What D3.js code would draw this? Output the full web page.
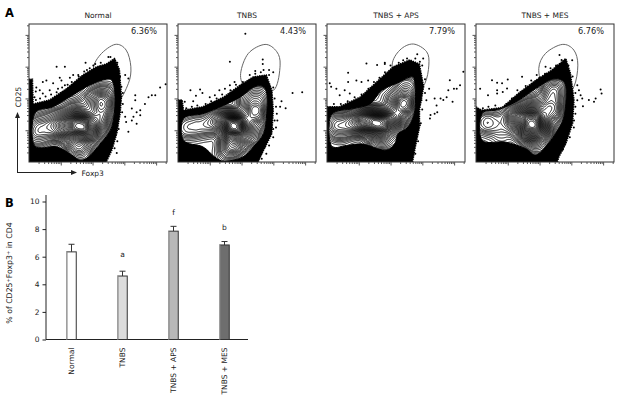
<!DOCTYPE html>
<html>
<head>
<meta charset="utf-8">
<script src="https://cdnjs.cloudflare.com/ajax/libs/d3/7.8.5/d3.min.js"></script>
<style>
html, body { margin: 0; padding: 0; background: #fff; }
text { font-family: "DejaVu Sans", sans-serif; fill: #222; }
</style>
</head>
<body>
<div id="graph"></div>
<script>
var panelNames = ["Normal", "TNBS", "TNBS + APS", "TNBS + MES"];
var panelPercent = ["6.36%", "4.43%", "7.79%", "6.76%"];

var gateNormal = [[62.4,85.2],[70.4,81.1],[73.8,69],[72,56.9],[63.6,43.6],[51.5,52],[46.6,66.6],[51.5,77.5]];
var gateTnbs = [[63.1,85.2],[71.6,79.9],[74,70.2],[70.4,53.3],[59.5,49.6],[48.5,54.5],[45.4,64.2],[51,78.7]];
var gateAps = [[62.5,85.5],[72.2,79.9],[73.8,70.2],[70.9,56.9],[62.5,47.2],[51.6,54.5],[47.2,70.2],[52.8,81.1]];
var gateMes = [[62.5,85.2],[70.9,81.1],[73.8,70.2],[70.9,54.5],[62.5,47.2],[49.2,54.5],[45.5,67.8],[50.4,78.7]];

// outline of the solid black cloud of events
var cloudNormal = [[0,0],[0,60],[2.5,60],[3,42],[15,45],[27,53],[39,63],[49,69],[56,71],[62,75],[65.5,67],[67,47],[66,35],[63.6,20.6],[60,8.5],[56,0]];
var cloudTnbs = [[0,0],[0,45],[3,45],[4,37.5],[18,40],[33,47],[45,55.7],[54.6,61.7],[64,63],[68,52],[69,37.5],[68,20.6],[62,8.5],[58,0]];
var cloudAps = [[0,0],[0,40],[9,40],[24,47],[36,58],[48,69],[60,74],[67,71],[70,54.5],[67,37.5],[67,25],[64,11],[62,0]];
var cloudMes = [[0,0],[0,40],[4,37.5],[19,39.5],[31,50],[43,59],[55,66.6],[65,75],[68.5,64],[71,45],[70,28],[65,13],[60,3.6],[59,0]];

// outermost contour, white inside
var outerNormal = [[4,35],[17.5,40],[31,48],[44,55.7],[56,60],[60.7,58],[62.4,44.8],[60,25.4],[51.5,13],[43,3.6],[37,1.2],[31,5],[20,11],[4,12]];
var outerTnbs = [[4,31.5],[18,35],[33,41],[45,47],[54.6,54],[60.7,55],[64.3,49.6],[64.3,35],[62,20.6],[54.6,11],[47,3.6],[34,0.5],[26.7,3.6],[18,11],[4,15.7]];
var outerAps = [[3,34],[19,38.7],[31,42],[40,52],[52.8,58],[61,61.7],[63.7,57],[63.7,37.5],[58.8,25.4],[51.6,20.6],[49,13],[41.9,8.5],[26,13],[14,12],[3,12]];
var outerMes = [[4.4,35],[16.5,38],[31,44.8],[43,53],[55,60],[62.5,59],[65.4,52],[63.7,32.7],[57.6,20.6],[50.4,11],[43,5],[36,9.7],[21,14.5],[4.4,15.7]];

// population centres behind the contours: x, y, weight
var sitesNormal = [[37,27,10],[55,42,5],[27,25,6],[17,24,3],[8,24,1.5],[3,25,1.5],[3,18,1],[8,16,1],[34,13,4],[44,21,5],[51,30,5],[56,52,1.5],[47,45,3],[34,37,3],[22,33,2],[10,31,1],[39,6,2]];
var sitesTnbs = [[41,26.6,10],[56.5,35,5],[50,45,2],[58,50,1.5],[30,30,4],[18,26.6,2],[8.5,24,1],[3,24,1],[40,13,4],[35,6,1],[52,20,3],[62,45,1.5],[8.5,30,0.5]];
var sitesAps = [[38,28,7],[56.4,42,5],[57.6,54.5,2],[19,28,3],[28.6,29,4],[9,28,1.5],[3,28,1.5],[9,20.6,1],[38,16,3],[48,30,4],[45.5,45,1],[28,34,2],[50,16,1.5]];
var sitesMes = [[40.7,30,8],[55,37.5,5],[55,50,3],[59,54.5,1.5],[28.6,30,4],[11.6,29,2],[4,28,1.5],[38,20.6,5],[48,23,4],[40.7,40,3],[28.6,35,2],[45,11,2],[19,18,1]];

// single events outside the cloud
var dotsNormal = [[20,69],[26,69],[41,72],[42,66.6],[46.6,70],[57.5,76],[56,70],[69.7,63],[72,60.5],[22.3,61],[29.6,61],[10,58],[12.6,59],[17.5,57],[7.8,52],[5.3,54],[4.9,51],[4,47],[10,49.6],[15,52],[21,53],[26,55.7],[23.5,59],[32,63],[35.7,63],[67,54.5],[99,56.4],[95,54],[91.5,48.4],[89,48.4],[86.6,47],[84,42],[77,48.4],[77,44.8],[74.5,38.7],[80.6,37.5],[78,36],[75.7,32.7],[80.6,33.9],[74.5,30],[69.7,32.7],[70.4,29],[78,27.8],[72,22],[63.6,6.5],
    [5,45],[8,46],[12,47.5],[16,49],[20,50.5],[24,54],[28,56],[31,58],[36,62],[40,65.5],[44,68],[48,71],[52,72],[59,76],[64,72],[66,62],[68,50],[68,42],[67.5,36],[65,24],[64,15],[62,10]];
var dotsTnbs = [[48.8,93],[37.6,72.6],[61.4,74.3],[61.4,71],[62,66.6],[66,66.6],[56,65.9],[69,65],[9,52],[16,52.5],[17.7,50],[13,48],[23,47],[26.7,48.4],[30,52],[34,53],[37.6,55.7],[41,58],[83,50],[90,50.6],[78,39],[75,44],[74,40],[71.6,35],[71,25],[72,30],[69,24],[4.9,43.6],[11,44],[8.5,23.5],[64,6],[60.7,2.4],[63,11],
    [6,39],[10,40],[14,41],[20,42],[24,44],[28,46],[32,49],[38,52],[42,56],[47,58],[52,63],[56,64],[60,65],[66,63],[69,54],[70,46],[71,40],[70,30],[69,18],[66,12]];
var dotsAps = [[28.6,71.4],[36.3,70.2],[41.9,72],[41.9,71],[65.4,78],[69.7,75],[67.3,72.6],[58.8,72.6],[55.2,73.8],[15.3,64.6],[15.3,58],[21.3,59],[25,58],[29.8,59],[3,54.5],[2,57],[6.8,53],[9.2,48.4],[12.8,52],[16.5,49.6],[98.8,65.4],[89,59.3],[96.4,55.7],[94,53],[92,53],[87.9,52],[86.7,47],[84.3,45],[82.3,46],[78,46],[74,53],[79.4,41],[79.9,36],[78,35],[75,34],[74.6,31.5],[91,43.6],[68.5,44.8],[72,44.8],[67.3,26.6],
    [5,42],[10,42],[15,44],[20,47],[25,49],[30,53],[34,58],[38,61],[42,65],[46,70],[52,72],[58,75],[64,75],[69,70],[71,60],[71,50],[69,38],[68,28],[66,15],[64,6]];
var dotsMes = [[11.6,59.3],[15.3,57.4],[23,59.8],[18.9,57],[3,53],[8.7,48.4],[15.3,52],[15.3,49.6],[19.4,50.8],[22.5,53.3],[33.4,61.7],[44,63],[50.4,69],[60.5,77.5],[65,73.8],[69.7,73.8],[90.3,52.5],[91,49.6],[86.7,46],[85.5,43.6],[81.8,45],[77,46],[75.8,48.4],[77.5,40.4],[73.4,55.7],[74.6,52],[72,35],[70.9,25],[73.4,44.8],
    [5,39],[9,40],[14,41],[22,42],[26,46],[30,52],[36,55],[40,59],[46,61],[50,64],[54,68],[58,70],[62,74],[67,70],[70,62],[72,50],[72,40],[71,30],[68,18],[63,9]];

var contourLevels = [0.02,0.04,0.06,0.08,0.1,0.12,0.14,0.16,0.19,0.22,0.25,0.28,0.31,0.34,0.37,0.4,0.43,0.46,0.49,0.52,0.55,0.58,0.61,0.64,0.67,0.7,0.73,0.76,0.79,0.82,0.85,0.88,0.91,0.94,0.97];
var logTicks = [2,3,4,5,6,7,8,9,10,20,30,40,50,60,70,80,90,100,200,300,400,500,600,700,800,900,1000,2000,3000,4000,5000,6000,7000,8000,9000,10000,20000];

// bar chart
var barNames = ["Normal", "TNBS", "TNBS + APS", "TNBS + MES"];
var barValues = [6.35, 4.6, 7.85, 6.85];
var barErrors = [0.55, 0.35, 0.35, 0.25];
var barFills = ["#ffffff", "#dcdcdc", "#b8b8b8", "#6e6e6e"];
var barLetters = ["", "a", "f", "b"];
var barLetterValues = [0, 6, 9.05, 7.9];
var barTicks = [0, 2, 4, 6, 8, 10];

var gates = [gateNormal, gateTnbs, gateAps, gateMes];
var clouds = [cloudNormal, cloudTnbs, cloudAps, cloudMes];
var outers = [outerNormal, outerTnbs, outerAps, outerMes];
var sites = [sitesNormal, sitesTnbs, sitesAps, sitesMes];
var dots = [dotsNormal, dotsTnbs, dotsAps, dotsMes];

var svg = d3.select("#graph").append("svg")
    .attr("width", 619)
    .attr("height", 404)
    .style("display", "block");

var defs = svg.append("defs");

var panelLeft = [29, 178, 327, 476];
var panelTop = 24, panelSize = 138;

var xScale = d3.scaleLinear().domain([0, 100]).range([0, panelSize]);
var yScale = d3.scaleLinear().domain([0, 100]).range([panelSize, 0]);
var xLog = d3.scaleLog().domain([1, 22000]).range([0, panelSize]);
var yLog = d3.scaleLog().domain([1, 22000]).range([panelSize, 0]);

var lineClosed = d3.line()
    .x(function(d) { return xScale(d[0]); })
    .y(function(d) { return yScale(d[1]); })
    .curve(d3.curveCardinalClosed);

var cloudLine = d3.line()
    .x(function(d) { return xScale(d[0]); })
    .y(function(d) { return yScale(d[1]); })
    .curve(d3.curveLinearClosed);

defs.append("clipPath").attr("id", "plotClip")
    .append("rect").attr("width", panelSize).attr("height", panelSize);

panelNames.forEach(function(name, i) {
    var g = svg.append("g").attr("transform", "translate(" + panelLeft[i] + "," + panelTop + ")");
    var plot = g.append("g").attr("clip-path", "url(#plotClip)");

    plot.append("path")
        .attr("d", lineClosed(gates[i]))
        .attr("fill", "none")
        .attr("stroke", "#666")
        .attr("stroke-width", 1);

    plot.append("path")
        .attr("d", cloudLine(clouds[i]))
        .attr("fill", "#000")
        .attr("stroke", "#000")
        .attr("stroke-width", 1.5)
        .attr("stroke-dasharray", "1.5 0.8");

    plot.selectAll(".dot")
        .data(dots[i])
        .enter().append("circle")
        .attr("class", "dot")
        .attr("cx", function(d) { return xScale(d[0]); })
        .attr("cy", function(d) { return yScale(d[1]); })
        .attr("r", 1)
        .attr("fill", "#000");

    // white area under the outermost contour, inner contours are clipped to it
    defs.append("clipPath").attr("id", "outerClip" + i)
        .append("path").attr("d", lineClosed(outers[i]));

    plot.append("path")
        .attr("d", lineClosed(outers[i]))
        .attr("fill", "#fff")
        .attr("stroke", "#000")
        .attr("stroke-width", 1);

    var density = d3.contourDensity()
        .x(function(d) { return xScale(d[0]); })
        .y(function(d) { return yScale(d[1]); })
        .weight(function(d) { return d[2]; })
        .size([panelSize, panelSize])
        .cellSize(1)
        .bandwidth(7.5)
        .contours(sites[i]);

    plot.append("g")
        .attr("clip-path", "url(#outerClip" + i + ")")
        .selectAll(".contour")
        .data(contourLevels)
        .enter().append("path")
        .attr("class", "contour")
        .attr("d", function(level) { return d3.geoPath()(density(level * density.max)); })
        .attr("fill", function(level, j) { return j == contourLevels.length - 1 ? "#fff" : "none"; })
        .attr("stroke", "#000")
        .attr("stroke-width", 0.9);

    g.append("rect")
        .attr("width", panelSize)
        .attr("height", panelSize)
        .attr("fill", "none")
        .attr("stroke", "#333")
        .attr("stroke-width", 1);

    var tickSize = function(d) { return Math.log10(d) % 1 == 0 ? 3.5 : 2; };

    var left = g.append("g").call(d3.axisLeft(yLog).tickValues(logTicks).tickFormat("").tickSize(2));
    var bottom = g.append("g").attr("transform", "translate(0," + panelSize + ")")
        .call(d3.axisBottom(xLog).tickValues(logTicks).tickFormat("").tickSize(2));
    left.select(".domain").remove();
    bottom.select(".domain").remove();
    left.selectAll("line").attr("x2", function(d) { return -tickSize(d); }).attr("stroke", "#555");
    bottom.selectAll("line").attr("y2", tickSize).attr("stroke", "#555");

    g.append("text")
        .attr("x", panelSize / 2)
        .attr("y", -6)
        .attr("text-anchor", "middle")
        .attr("font-size", 7.5)
        .text(name);

    g.append("text")
        .attr("x", panelSize - 10)
        .attr("y", 9.5)
        .attr("text-anchor", "end")
        .attr("font-size", 8.2)
        .text(panelPercent[i]);
});

// arrows of panel A
defs.append("marker")
    .attr("id", "arrow")
    .attr("viewBox", "0 0 6 6")
    .attr("refX", 5).attr("refY", 3)
    .attr("markerWidth", 6).attr("markerHeight", 6)
    .attr("orient", "auto")
    .append("path").attr("d", "M0,0.5L6,3L0,5.5Z").attr("fill", "#222");

svg.append("path")
    .attr("d", "M17.5,172.5V113")
    .attr("fill", "none").attr("stroke", "#222").attr("marker-end", "url(#arrow)");
svg.append("path")
    .attr("d", "M17,172.5H76")
    .attr("fill", "none").attr("stroke", "#222").attr("marker-end", "url(#arrow)");

svg.append("text")
    .attr("transform", "translate(20.5,97) rotate(-90)")
    .attr("text-anchor", "middle")
    .attr("font-size", 7.5)
    .text("CD25");

svg.append("text")
    .attr("x", 81.5).attr("y", 175.5)
    .attr("font-size", 7.5)
    .text("Foxp3");

svg.append("text").attr("x", 5).attr("y", 17)
    .attr("font-size", 11.5).attr("font-weight", "bold").attr("style", "fill:#000")
    .text("A");
svg.append("text").attr("x", 5).attr("y", 207)
    .attr("font-size", 11.5).attr("font-weight", "bold").attr("style", "fill:#000")
    .text("B");

// Panel B
var barX = d3.scalePoint().domain(barNames).range([46, 250]).padding(0.5);
var barY = d3.scaleLinear().domain([0, 10]).range([339.5, 201.5]);
var barWidth = 9.5;

var yAxis = svg.append("g")
    .attr("transform", "translate(46,0)")
    .call(d3.axisLeft(barY).tickValues(barTicks).tickSize(3.5).tickPadding(3));
yAxis.select(".domain").attr("d", "M0,339.5V195").attr("stroke", "#222");
yAxis.selectAll("line").attr("stroke", "#222");
yAxis.selectAll("text").attr("font-size", 7.5).attr("font-family", "DejaVu Sans");

var xAxis = svg.append("g")
    .attr("transform", "translate(0,339.5)")
    .call(d3.axisBottom(barX).tickSize(-3).tickPadding(0));
xAxis.select(".domain").attr("d", "M46,0H248").attr("stroke", "#222");
xAxis.selectAll("line").attr("stroke", "#222");
xAxis.selectAll("text")
    .attr("font-size", 7.5)
    .attr("font-family", "DejaVu Sans")
    .attr("text-anchor", "end")
    .attr("transform", "translate(2,8) rotate(-90)")
    .attr("y", 0)
    .attr("dy", 0);

barNames.forEach(function(name, i) {
    var cx = barX(name);
    var top = barY(barValues[i]);
    var errTop = barY(barValues[i] + barErrors[i]);
    svg.append("path")
        .attr("d", "M" + cx + "," + top + "V" + errTop + "M" + (cx - 3) + "," + errTop + "H" + (cx + 3))
        .attr("stroke", "#333").attr("fill", "none");
    svg.append("rect")
        .attr("x", cx - barWidth / 2).attr("y", top)
        .attr("width", barWidth).attr("height", barY(0) - top)
        .attr("fill", barFills[i])
        .attr("stroke", "#333");
    svg.append("path")
        .attr("d", "M" + (cx - barWidth / 2) + "," + top + "V" + barY(0))
        .attr("stroke", "#aaa").attr("stroke-width", 1.2);
    if (barLetters[i] != "") {
        svg.append("text")
            .attr("x", cx).attr("y", barY(barLetterValues[i]))
            .attr("text-anchor", "middle")
            .attr("font-size", 7.5)
            .text(barLetters[i]);
    }
});

var yLabel = svg.append("text")
    .attr("transform", "translate(12,273) rotate(-90)")
    .attr("text-anchor", "middle")
    .attr("font-size", 7.8);
yLabel.append("tspan").text("% of CD25");
yLabel.append("tspan").attr("font-size", 5).attr("dy", -2.5).text("+");
yLabel.append("tspan").attr("dy", 2.5).text("Foxp3");
yLabel.append("tspan").attr("font-size", 5).attr("dy", -2.5).text("+");
yLabel.append("tspan").attr("dy", 2.5).text(" in CD4");
</script>
</body>
</html>
